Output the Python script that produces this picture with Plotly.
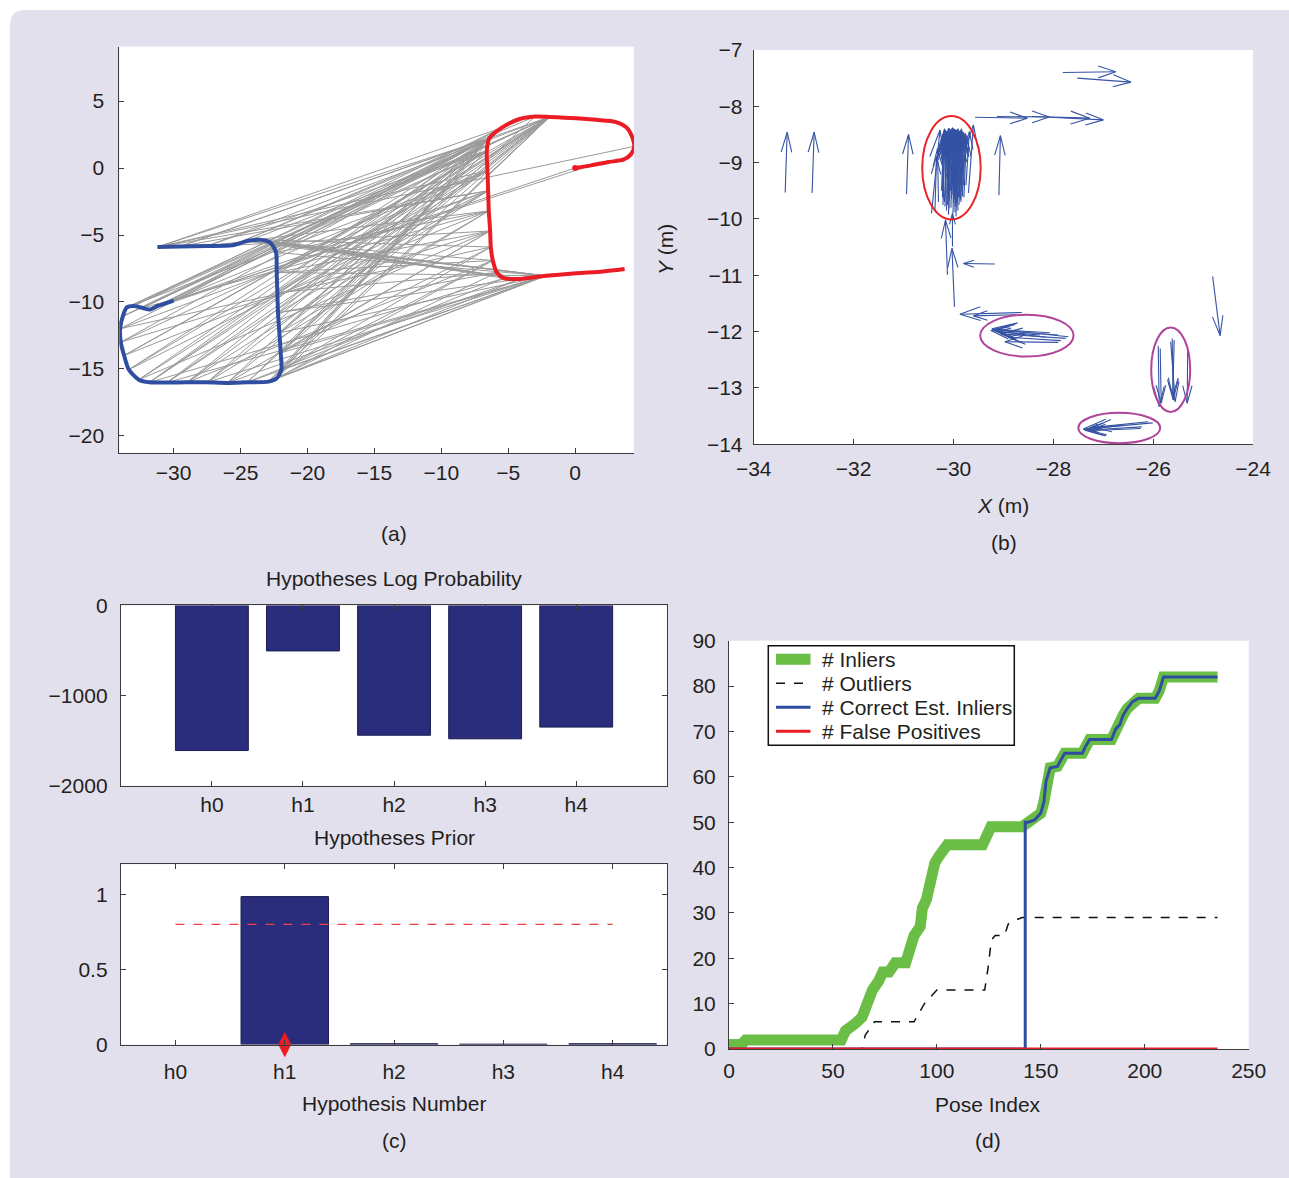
import plotly.graph_objects as go

W, H = 1289, 1178
CARD = "#e3e0ee"
TXT = "#231f20"
AXC = "#3c3c3c"
FONT = "Liberation Sans, Arial, Helvetica, sans-serif"
FS = 21

# ---------------- (a) two trajectories and their pose links ----------------
blue_x = [-31.2, -29.5, -27.5, -25.6, -24.5, -23.6, -22.8, -22.35, -22.3, -22.25,
          -22.2, -22.1, -22.0, -21.95, -22.3, -22.9, -24.5, -26.0, -27.5, -29.0,
          -30.5, -31.8, -32.6, -33.35, -33.7, -33.95, -34.0, -33.8, -33.5, -33.0,
          -32.3, -31.8, -31.2, -30.5, -30.0]
blue_y = [-5.90, -5.85, -5.82, -5.77, -5.45, -5.35, -5.55, -6.3, -7.8, -9.3,
          -10.8, -12.3, -13.8, -15.05, -15.7, -15.95, -16.0, -16.05, -16.0, -16.0,
          -16.02, -16.0, -15.8, -15.05, -14.0, -13.0, -12.0, -11.07, -10.4, -10.3,
          -10.45, -10.57, -10.3, -10.07, -9.9]
red_x = [0.0, 1.2, 2.5, 3.6, 4.15, 4.42, 4.25, 3.87, 3.0, 1.6,
         0.1, -1.9, -3.0, -4.15, -5.5, -6.4, -6.6, -6.55, -6.5, -6.45,
         -6.35, -6.3, -6.15, -5.85, -5.3, -4.1, -2.2, 0.1, 2.1, 3.7]
red_y = [0.0, 0.2, 0.45, 0.62, 1.0, 1.62, 2.36, 3.0, 3.45, 3.6,
         3.72, 3.82, 3.85, 3.66, 3.0, 2.24, 1.3, -0.2, -1.7, -3.2,
         -4.7, -5.9, -6.9, -7.8, -8.23, -8.28, -8.05, -7.85, -7.72, -7.54]
# (blue pose index, red pose index) correspondences
links = [
    (0, 15), (0, 5), (0, 17), (0, 14), (0, 18), (1, 15), (1, 18), (1, 11), (2, 16), (2, 19),
    (2, 11), (3, 15), (3, 20), (3, 12), (4, 26), (4, 25), (4, 16), (5, 26), (5, 25), (5, 24),
    (5, 21), (6, 26), (6, 25), (6, 22), (7, 15), (7, 26), (7, 19), (8, 16), (8, 26), (8, 20),
    (9, 17), (9, 23), (9, 11), (10, 18), (10, 25), (10, 15), (11, 19), (11, 26), (11, 15), (11, 11),
    (12, 20), (12, 26), (12, 15), (12, 11), (12, 16), (13, 21), (13, 26), (13, 15), (13, 11), (13, 14),
    (13, 22), (14, 22), (14, 26), (14, 15), (14, 11), (14, 25), (15, 23), (15, 26), (15, 15), (15, 11),
    (16, 24), (16, 26), (16, 16), (16, 12), (17, 20), (17, 25), (17, 15), (17, 11), (18, 19), (18, 26),
    (18, 15), (18, 11), (19, 18), (19, 15), (19, 11), (19, 22), (20, 17), (20, 15), (20, 11), (20, 26),
    (21, 16), (21, 14), (21, 11), (21, 24), (22, 15), (22, 11), (22, 20), (23, 15), (23, 18), (23, 11),
    (24, 16), (24, 19), (24, 11), (25, 17), (25, 20), (25, 15), (26, 18), (26, 15), (26, 21), (27, 15),
    (27, 16), (27, 11), (28, 15), (28, 11), (28, 17), (29, 14), (29, 11), (30, 15), (30, 19), (31, 16),
    (31, 0), (32, 15), (32, 1), (33, 14), (33, 17), (34, 15), (34, 18), (12, 21), (10, 23), (8, 22),
]

# ---------------- (b) pose-constraint quiver (tail -> head) ----------------
# isolated constraints
arrow_x0 = [-33.37, -32.83, -30.94, -29.09,
            -27.81, -27.52, -29.57, -29.13, -28.43, -28.07,
            -30.44, -30.37, -30.30, -29.70, -29.75,
            -30.12, -29.98, -30.02, -29.17, -28.63, -28.75,
            -27.70, -27.90, -27.90, -28.07, -28.27, -27.75, -28.15, -27.85,
            -25.90, -25.86, -25.62, -25.58, -25.65, -25.31,
            -24.81,
            -26.01, -26.23, -26.25, -26.60, -26.10]
arrow_y0 = [-9.53, -9.54, -9.56, -9.58,
            -7.40, -7.50, -8.195, -8.18, -8.18, -8.195,
            -9.90, -9.84, -9.70, -9.54, -9.40,
            -10.99, -11.56, -10.49, -10.80, -11.66, -11.70,
            -12.09, -12.06, -12.19, -12.02, -12.06, -12.12, -12.10, -12.16,
            -12.25, -12.30, -12.12, -12.15, -12.18, -12.33,
            -11.02,
            -13.62, -13.69, -13.72, -13.66, -13.60]
arrow_x1 = [-33.33, -32.79, -30.90, -29.06,
            -26.75, -26.45, -28.52, -28.08, -27.27, -27.00,
            -30.27, -30.34, -30.32, -29.60, -29.68,
            -30.16, -30.03, -30.02, -29.80, -29.87, -29.60,
            -29.23, -29.20, -28.97, -29.17, -29.13, -29.05, -29.25, -28.90,
            -25.88, -25.84, -25.60, -25.61, -25.56, -25.32,
            -24.66,
            -27.40, -27.37, -27.30, -27.35, -27.20]
arrow_y1 = [-8.46, -8.46, -8.50, -8.52,
            -7.385, -7.57, -8.21, -8.19, -8.21, -8.24,
            -8.42, -8.89, -8.75, -8.33, -8.45,
            -10.02, -10.52, -9.90, -10.79, -11.69, -11.72,
            -11.95, -11.97, -12.18, -11.96, -12.00, -12.04, -11.98, -12.10,
            -13.33, -13.27, -13.21, -13.15, -13.24, -13.27,
            -12.07,
            -13.73, -13.75, -13.76, -13.74, -13.70]
# dense cluster of near-identical constraints
cluster_x0 = [-30.22, -30.18, -30.15, -30.12, -30.10, -30.08, -30.05, -30.03, -30.00, -29.98,
              -29.96, -29.94, -29.92, -29.90, -29.88, -29.86, -29.84, -29.82, -29.80, -30.20,
              -30.14, -30.06, -29.97, -29.93, -30.16, -29.89, -30.10, -29.95,
              -30.24, -30.19, -30.13, -30.09, -30.04, -30.01, -29.99, -29.95, -29.91, -29.87,
              -29.83, -29.79, -30.17, -30.07, -29.97, -29.90, -30.11, -30.00, -29.85, -30.21]
cluster_y0 = [-9.62, -9.70, -9.55, -9.75, -9.60, -9.68, -9.80, -9.58, -9.72, -9.65,
              -9.78, -9.55, -9.70, -9.62, -9.50, -9.66, -9.45, -9.60, -9.40, -9.45,
              -9.85, -9.50, -9.88, -9.35, -9.30, -9.75, -9.92, -9.95,
              -9.50, -9.66, -9.72, -9.82, -9.64, -9.90, -9.48, -9.70, -9.85, -9.58,
              -9.52, -9.62, -9.78, -9.40, -9.60, -9.42, -9.55, -9.35, -9.70, -9.75]
cluster_x1 = [-30.20, -30.12, -30.16, -30.05, -30.08, -30.14, -30.02, -29.98, -30.04, -29.95,
              -29.92, -29.98, -29.88, -29.86, -29.90, -29.80, -29.85, -29.78, -29.76, -30.24,
              -30.10, -30.00, -29.99, -29.91, -30.18, -29.83, -30.06, -29.92,
              -30.19, -30.22, -30.09, -30.11, -30.07, -29.97, -30.02, -29.93, -29.95, -29.84,
              -29.80, -29.74, -30.13, -30.10, -29.94, -29.93, -30.14, -29.97, -29.82, -30.17]
cluster_y1 = [-8.55, -8.45, -8.42, -8.48, -8.40, -8.50, -8.42, -8.45, -8.40, -8.43,
              -8.47, -8.41, -8.44, -8.46, -8.42, -8.50, -8.43, -8.55, -8.48, -8.60,
              -8.62, -8.39, -8.55, -8.40, -8.40, -8.60, -9.00, -9.10,
              -8.44, -8.50, -8.40, -8.47, -8.41, -8.46, -8.38, -8.44, -8.52, -8.40,
              -8.46, -8.52, -8.58, -8.39, -8.42, -8.43, -8.45, -8.41, -8.48, -8.56]
# highlighted groups: (centre x, centre y, radius x, radius y, colour)
group_cx = [-30.04, -28.53, -25.65, -26.68]
group_cy = [-9.09, -12.07, -12.675, -13.71]
group_rx = [0.585, 0.935, 0.39, 0.82]
group_ry = [0.917, 0.37, 0.75, 0.27]
group_col = ["#e8262a", "#b0449a", "#b0449a", "#b0449a"]

# ---------------- (c) hypotheses ----------------
hyp = ["h0", "h1", "h2", "h3", "h4"]
log_prob = [-1610, -505, -1440, -1480, -1350]
prior = [0.0, 0.985, 0.006, 0.003, 0.006]
prior_threshold = 0.8
chosen_hyp = "h1"

# ---------------- (d) inlier statistics vs pose index ----------------
inl_x = [0, 6, 8, 54, 56, 58, 61, 64, 66, 69, 72, 74, 77, 80, 85, 87, 89, 92, 93, 95, 96, 98, 99,
         101, 103, 105, 122, 124, 126, 141, 144, 147, 150, 151.5, 152.5, 154.5, 158, 160, 161.5,
         170, 171.5, 173.5, 184, 186, 188, 189.5, 191.5, 194, 197, 205, 207, 209, 235]
inl_y = [1, 1, 2, 2, 4, 5, 5.7, 7, 10, 13, 15, 17, 17, 19, 19, 22, 25, 27, 31, 33, 35, 39.5, 41,
         42.5, 44, 45, 45, 47, 49, 49, 50, 50.5, 52, 54.5, 59, 62, 62.3, 64, 65.2,
         65.2, 66.7, 68.2, 68.2, 70.5, 71.5, 73.5, 75, 76.5, 77.3, 77.3, 79, 82, 82]
out_x = [0, 64, 65.5, 70, 89, 94, 100, 123, 124.5, 126.2, 128, 132.5, 134.3, 135.5, 141, 235]
out_y = [0, 0, 3, 6, 6, 10, 13, 13, 17.5, 24, 25, 25, 27.5, 28, 29, 29]
cor_x = [0, 142.5, 142.5, 144, 147, 150, 151.5, 152.5, 154.5, 158, 160, 161.5,
         170, 171.5, 173.5, 184, 186, 188, 189.5, 191.5, 194, 197, 205, 207, 209, 235]
cor_y = [0, 0, 50, 50, 50.5, 52, 54.5, 59, 62, 62.3, 64, 65.2,
         65.2, 66.7, 68.2, 68.2, 70.5, 71.5, 73.5, 75, 76.5, 77.3, 77.3, 79, 82, 82]
fp_x = [0, 235]
fp_y = [0, 0]

series_names = ["# Inliers", "# Outliers", "# Correct Est. Inliers", "# False Positives"]
series_colors = ["#6abd45", "#111111", "#2f4ea2", "#ec1c24"]
series_widths = [11, 1.5, 3, 3]
series_dash = ["solid", "dash", "solid", "solid"]

fig = go.Figure()

# (a) links first, trajectories on top
lx, ly = [], []
for b, r in links:
    lx += [blue_x[b], red_x[r], None]
    ly += [blue_y[b], red_y[r], None]
fig.add_trace(go.Scatter(x=lx, y=ly, mode="lines", line=dict(color="#9a9a9a", width=1),
                         xaxis="x", yaxis="y", showlegend=False, hoverinfo="skip"))
fig.add_trace(go.Scatter(x=blue_x, y=blue_y, mode="lines",
                         line=dict(color="#2f4ea2", width=4, shape="spline", smoothing=0.7),
                         xaxis="x", yaxis="y", showlegend=False))
fig.add_trace(go.Scatter(x=red_x, y=red_y, mode="lines",
                         line=dict(color="#ec1c24", width=4, shape="spline", smoothing=0.7),
                         xaxis="x", yaxis="y", showlegend=False))
fig.add_trace(go.Scatter(x=[red_x[0]], y=[red_y[0]], mode="markers",
                         marker=dict(color="#ec1c24", size=6),
                         xaxis="x", yaxis="y", showlegend=False))

# (b) quiver: shaft plus two barbs per arrow (MATLAB-style head geometry)
alpha, beta = 0.33, 0.3
qx, qy = [], []
all_x0 = arrow_x0 + cluster_x0
all_y0 = arrow_y0 + cluster_y0
all_x1 = arrow_x1 + cluster_x1
all_y1 = arrow_y1 + cluster_y1
for x0, y0, x1, y1 in zip(all_x0, all_y0, all_x1, all_y1):
    u, v = x1 - x0, y1 - y0
    qx += [x0, x1, None,
           x1 - alpha * (u + beta * v), x1, x1 - alpha * (u - beta * v), None]
    qy += [y0, y1, None,
           y1 - alpha * (v - beta * u), y1, y1 - alpha * (v + beta * u), None]
fig.add_trace(go.Scatter(x=qx, y=qy, mode="lines", line=dict(color="#3553a4", width=1.1),
                         xaxis="x2", yaxis="y2", showlegend=False, hoverinfo="skip"))

# (c) log probability and prior
BAR = "#292d7b"
edge_w = [0 if p == 0 else 1 for p in prior]
fig.add_trace(go.Bar(x=hyp, y=log_prob, width=0.8,
                     marker=dict(color=BAR, line=dict(color="#1c1d50", width=1)),
                     xaxis="x3", yaxis="y3", showlegend=False))
fig.add_trace(go.Bar(x=hyp, y=prior, width=0.8,
                     marker=dict(color=BAR, line=dict(color="#1c1d50", width=edge_w)),
                     xaxis="x4", yaxis="y4", showlegend=False))
fig.add_trace(go.Scatter(x=hyp, y=[prior_threshold] * len(hyp), mode="lines",
                         line=dict(color="#f04040", width=1.2, dash="dash"),
                         xaxis="x4", yaxis="y4", showlegend=False))
fig.add_trace(go.Scatter(x=[chosen_hyp], y=[0], mode="markers", cliponaxis=False,
                         marker=dict(symbol="diamond-tall", color="#ec1c24", size=17,
                                     line=dict(width=1, color="#ec1c24")),
                         xaxis="x4", yaxis="y4", showlegend=False))

# (d) counts
for sx, sy, nm, col, wd, ds in zip([inl_x, out_x, cor_x, fp_x], [inl_y, out_y, cor_y, fp_y],
                                   series_names, series_colors, series_widths, series_dash):
    fig.add_trace(go.Scatter(x=sx, y=sy, mode="lines", name=nm,
                             line=dict(color=col, width=wd, dash=ds),
                             xaxis="x5", yaxis="y5", showlegend=False))


def px_x(p):
    return p / W


def px_y(p):
    return 1 - p / H


def axis(**kw):
    base = dict(showline=True, linecolor=AXC, linewidth=1, ticks="inside", ticklen=5,
                tickcolor=AXC, showgrid=False, zeroline=False, automargin=False,
                tickfont=dict(size=FS, color=TXT, family=FONT))
    base.update(kw)
    return base


shapes = []
# white surround with rounded top-left corner of the card
shapes.append(dict(type="path", xref="paper", yref="paper", layer="below",
                   path=(f"M 0,1 L 1,1 L 1,{px_y(10)} L {px_x(25)},{px_y(10)} "
                         f"Q {px_x(10)},{px_y(10)} {px_x(10)},{px_y(25)} L {px_x(10)},0 L 0,0 Z"),
                   fillcolor="white", line=dict(width=0)))
for cx, cy, rx, ry, col in zip(group_cx, group_cy, group_rx, group_ry, group_col):
    shapes.append(dict(type="circle", xref="x2", yref="y2", x0=cx - rx, x1=cx + rx,
                       y0=cy - ry, y1=cy + ry, line=dict(color=col, width=2)))

ann = []


def label(text, x, y, size=FS, angle=0, anchor="center"):
    ann.append(dict(text=text, x=px_x(x), y=px_y(y), xref="paper", yref="paper",
                    showarrow=False, xanchor=anchor, yanchor="middle", textangle=angle,
                    font=dict(size=size, color=TXT, family=FONT)))


# legend box for (d)
LEG_L, LEG_T, LEG_R, LEG_B = 768.3, 645.7, 1014.3, 745.3
shapes.append(dict(type="rect", xref="paper", yref="paper", layer="above",
                   x0=px_x(LEG_L), x1=px_x(LEG_R), y0=px_y(LEG_B), y1=px_y(LEG_T),
                   fillcolor="white", line=dict(color="#111111", width=1.5)))
for i, (nm, col, wd, ds) in enumerate(zip(series_names, series_colors, series_widths, series_dash)):
    yy = 659.3 + 24 * i
    shapes.append(dict(type="line", xref="paper", yref="paper", layer="above",
                       x0=px_x(776), x1=px_x(810.5), y0=px_y(yy), y1=px_y(yy),
                       line=dict(color=col, width=wd, dash=ds)))
    label(nm, 819.5, yy, size=FS, anchor="left")

label("(a)", 394, 533)
label("(b)", 1004, 542)
label("(c)", 394, 1140)
label("(d)", 988, 1140)
label("Hypotheses Log Probability", 394, 578)
label("Hypotheses Prior", 394, 837)
label("Hypothesis Number", 394, 1103)
label("Pose Index", 988, 1104)
label("<i>X</i> (m)", 1003, 505)
label("<i>Y</i> (m)", 665, 250, angle=-90)

fig.update_layout(
    width=W, height=H, autosize=False,
    margin=dict(l=0, r=0, t=0, b=0),
    paper_bgcolor=CARD, plot_bgcolor="white",
    font=dict(family=FONT, color=TXT, size=FS),
    shapes=shapes, annotations=ann, bargap=0.2, showlegend=False,
    xaxis=axis(domain=[px_x(119.3), px_x(634)], range=[-34.06, 4.4],
               tickvals=[-30, -25, -20, -15, -10, -5, 0], anchor="y", ticklabelstandoff=0),
    yaxis=axis(domain=[px_y(453.3), px_y(46.7)], range=[-21.3, 9.06],
               tickvals=[-20, -15, -10, -5, 0, 5], anchor="x", ticklabelstandoff=10),
    xaxis2=axis(domain=[px_x(753.7), px_x(1253.1)], range=[-34, -24], dtick=2, anchor="y2",
                ticklabelstandoff=5),
    yaxis2=axis(domain=[px_y(444.3), px_y(50)], range=[-14, -7], dtick=1, anchor="x2",
                ticklabelstandoff=6),
    xaxis3=axis(domain=[px_x(120.8), px_x(667.3)], type="category", range=[-1, 5],
                anchor="y3", mirror="ticks", ticklabelstandoff=0),
    yaxis3=axis(domain=[px_y(785.7), px_y(605.4)], range=[-2000, 0],
                tickvals=[-2000, -1000, 0], anchor="x3", mirror="ticks", ticklabelstandoff=8),
    xaxis4=axis(domain=[px_x(120.8), px_x(667.3)], type="category", range=[-0.5, 4.5],
                anchor="y4", mirror="ticks", ticklabelstandoff=8),
    yaxis4=axis(domain=[px_y(1044.6), px_y(864.3)], range=[0, 1.2],
                tickvals=[0, 0.5, 1], anchor="x4", mirror="ticks", ticklabelstandoff=8),
    xaxis5=axis(domain=[px_x(729), px_x(1248.7)], range=[0, 250], dtick=50, anchor="y5",
                ticklabelstandoff=3),
    yaxis5=axis(domain=[px_y(1049), px_y(640.7)], range=[0, 90], dtick=10, anchor="x5",
                ticklabelstandoff=8),
)

fig.write_html("out.html")
